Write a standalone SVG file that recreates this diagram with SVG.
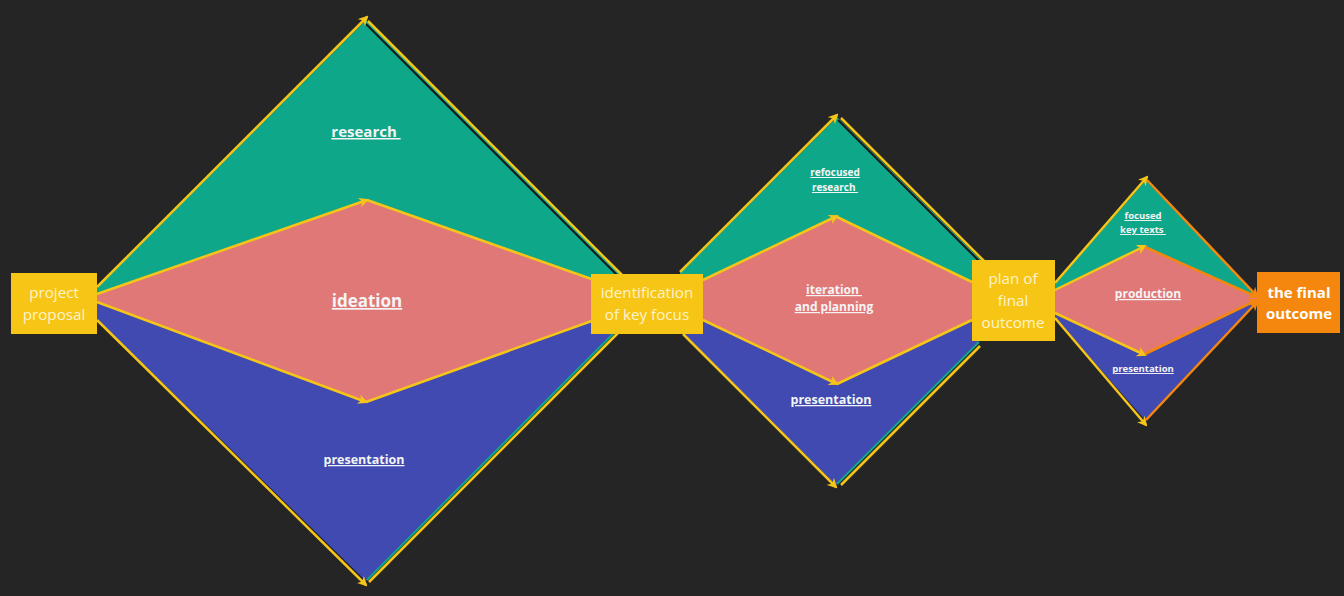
<svg xmlns="http://www.w3.org/2000/svg" width="1344" height="596" viewBox="0 0 1344 596">
<defs>
<marker id="ay" viewBox="0 0 10 10" refX="8" refY="5" markerWidth="10" markerHeight="10" markerUnits="userSpaceOnUse" orient="auto">
<path d="M0,0 L10,5 L0,10 L3,5 Z" fill="#f5c518"/>
</marker>
<marker id="ao" viewBox="0 0 10 10" refX="8" refY="5" markerWidth="10" markerHeight="10" markerUnits="userSpaceOnUse" orient="auto">
<path d="M0,0 L10,5 L0,10 L3,5 Z" fill="#f5870e"/>
</marker>
<style>
.g{fill:#0ea78a}
.p{fill:#e07878}
.b{fill:#404ab0}
.te{stroke:#0ea78a;stroke-width:2;fill:none}
.ly{stroke:#f5c518;stroke-width:2.5;fill:none}
.lya{stroke:#f5c518;stroke-width:2.5;fill:none;marker-end:url(#ay)}
.lo{stroke:#f5870e;stroke-width:2.5;fill:none;marker-end:url(#ao)}
.sh{stroke:#1a1a1a;stroke-width:2;fill:none}
.box{fill:#f7c516}
.bt{font-family:"Open Sans","Liberation Sans",sans-serif;font-size:15.2px;fill:#fdf3cc;text-anchor:middle}
.lb{font-family:"Open Sans","Liberation Sans",sans-serif;font-weight:bold;fill:#f4f4f4;text-anchor:middle;text-decoration:underline}
</style>
</defs>
<rect x="0" y="0" width="1344" height="596" fill="#252525"/>

<g id="shapes">
<polygon class="g" points="97,288 366,20 624,277 624,300 97,300"/>
<polygon class="b" points="97,300 97,319 366,581 623,324 623,300"/>
<line class="te" x1="367" y1="580" x2="623" y2="324"/>
<polygon class="p" points="97,294 367,200 600,282 600,318 366,402 97,302"/>
<polygon class="g" points="680,273 837,117 983,262 983,300 680,300"/>
<polygon class="b" points="683,300 683,334 836,485 979,342 979,300"/>
<line class="te" x1="837" y1="484" x2="979" y2="342"/>
<polygon class="p" points="703,280 837,216 972,282 972,320 837,384 703,320"/>
<polygon class="g" points="1055,284 1146,180 1257,296 1257,300 1055,300"/>
<polygon class="b" points="1055,300 1055,318 1146,421 1257,302"/>
<polygon class="p" points="1055,290 1145,246 1257,297 1257,300 1145,355 1055,313"/>
</g>

<g id="connectors">
<line class="sh" x1="366" y1="24" x2="622" y2="280"/>
<line class="ly" x1="368" y1="21" x2="624" y2="277"/>
<line class="lya" x1="97" y1="287" x2="367" y2="17"/>
<line class="lya" x1="97" y1="294" x2="367" y2="200"/>
<line class="ly" x1="367" y1="200" x2="600" y2="282"/>
<line class="lya" x1="97" y1="302" x2="366" y2="402"/>
<line class="ly" x1="366" y1="402" x2="600" y2="318"/>
<line class="lya" x1="97" y1="320" x2="366" y2="585"/>
<line class="ly" x1="369" y1="582" x2="625" y2="326"/>

<line class="sh" x1="838" y1="120" x2="983" y2="265"/>
<line class="ly" x1="841" y1="118" x2="985" y2="262"/>
<line class="lya" x1="680" y1="272" x2="837" y2="115"/>
<line class="lya" x1="703" y1="280" x2="837" y2="216"/>
<line class="ly" x1="837" y1="217" x2="972" y2="282"/>
<line class="lya" x1="703" y1="320" x2="837" y2="384"/>
<line class="ly" x1="837" y1="384" x2="972" y2="320"/>
<line class="lya" x1="683" y1="334" x2="836" y2="487"/>
<line class="ly" x1="841" y1="485" x2="980" y2="346"/>

<line class="lya" x1="1055" y1="283" x2="1147" y2="177"/>
<line class="lo" x1="1147" y1="180" x2="1257" y2="296"/>
<line class="lya" x1="1055" y1="290" x2="1145" y2="246"/>
<line class="lo" x1="1145" y1="247" x2="1257" y2="297"/>
<line class="lya" x1="1055" y1="313" x2="1145" y2="355"/>
<line class="lo" x1="1145" y1="354" x2="1257" y2="300"/>
<line class="lya" x1="1055" y1="318" x2="1146" y2="425"/>
<line class="lo" x1="1146" y1="420" x2="1257" y2="302"/>
</g>

<g id="labels">
<text class="lb" x="366" y="137" font-size="15" xml:space="preserve">research </text>
<text class="lb" x="367" y="307" font-size="17">ideation</text>
<text class="lb" x="364" y="464" font-size="12.5">presentation</text>
<text class="lb" x="835" y="176" font-size="10">refocused</text>
<text class="lb" x="835" y="191" font-size="10" xml:space="preserve">research </text>
<text class="lb" x="834" y="294" font-size="12" xml:space="preserve">iteration </text>
<text class="lb" x="834" y="311" font-size="12">and planning</text>
<text class="lb" x="831" y="404" font-size="12.5">presentation</text>
<text class="lb" x="1143" y="219" font-size="9.5">focused</text>
<text class="lb" x="1143" y="233" font-size="9.5" xml:space="preserve">key texts </text>
<text class="lb" x="1148" y="298" font-size="12">production</text>
<text class="lb" x="1143" y="372" font-size="9.5">presentation</text>
</g>

<g id="node-project-proposal">
<rect class="box" x="11" y="273" width="86" height="61"/>
<text class="bt" x="54" y="298">project</text>
<text class="bt" x="54" y="320">proposal</text>
</g>
<g id="node-identification">
<rect class="box" x="591" y="274" width="112" height="60"/>
<text class="bt" x="647" y="298">identification</text>
<text class="bt" x="647" y="320">of key focus</text>
</g>
<g id="node-plan">
<rect class="box" x="972" y="260" width="83" height="81"/>
<text class="bt" x="1013" y="284">plan of</text>
<text class="bt" x="1013" y="306">final</text>
<text class="bt" x="1013" y="328">outcome</text>
</g>
<g id="node-final">
<rect x="1257" y="272" width="83" height="61" fill="#f5870f"/>
<text class="bt" x="1299" y="298" style="font-weight:bold;fill:#ffffff;font-size:15px">the final</text>
<text class="bt" x="1299" y="319" style="font-weight:bold;fill:#ffffff;font-size:15px">outcome</text>
</g>
</svg>
